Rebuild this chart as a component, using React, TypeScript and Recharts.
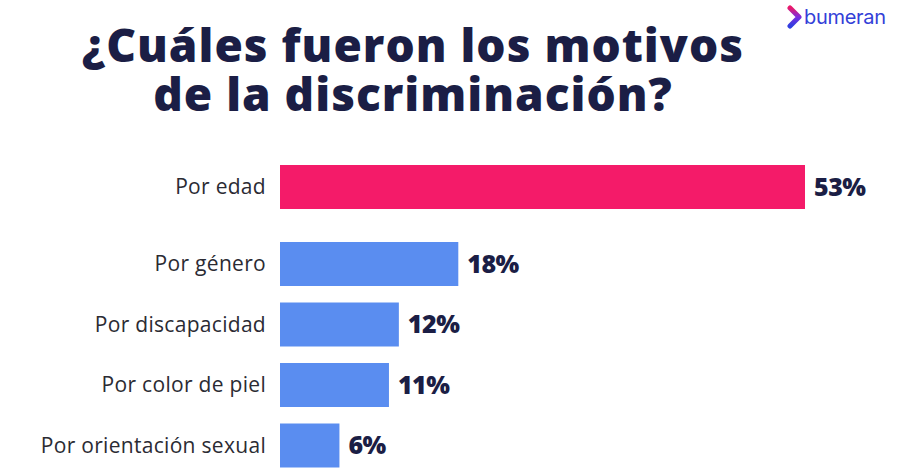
import React from "react";
import { BarChart, Bar, XAxis, YAxis, LabelList, Cell } from "recharts";

const titleLines = ["¿Cuáles fueron los motivos", "de la discriminación?"];
const topCategories = ["Por edad"];
const topValues = [53];
const restCategories = ["Por género", "Por discapacidad", "Por color de piel", "Por orientación sexual"];
const restValues = [18, 12, 11, 6];
const brandName = "bumeran";

const PINK = "#F41B69";
const BLUE = "#5A8DF0";
const NAVY = "#1B1E45";
const LABEL = "#2B2B33";
const FONT = "'Open Sans', sans-serif";

const topData = topCategories.map((name, i) => ({ name, value: topValues[i] }));
const restData = restCategories.map((name, i) => ({ name, value: restValues[i] }));

const Tick = (props: any) => {
  const { x, y, payload } = props;
  return (
    <text x={x} y={y} dy={7} textAnchor="end" fontFamily={FONT} fontSize={21} letterSpacing={0.3} fill={LABEL}>
      {payload.value}
    </text>
  );
};

const DOMAIN: [number, number] = [0, 53];
const MARGIN = { top: 0, right: 106, bottom: 0, left: 0 };

function Chart({ data, color, height }: { data: any[]; color: string; height: number }) {
  return (
    <BarChart layout="vertical" width={911} height={height} data={data} margin={MARGIN}>
      <XAxis type="number" domain={DOMAIN} hide />
      <YAxis
        type="category"
        dataKey="name"
        width={280}
        axisLine={false}
        tickLine={false}
        tickSize={0}
        tickMargin={14}
        tick={<Tick />}
        interval={0}
      />
      <Bar dataKey="value" barSize={44} isAnimationActive={false}>
        {data.map((d, i) => (
          <Cell key={i} fill={color} />
        ))}
        <LabelList
          dataKey="value"
          position="right"
          offset={9}
          formatter={(v: any) => `${v}%`}
          style={{ fontFamily: FONT, fontSize: 25, fontWeight: 800, fill: NAVY, letterSpacing: -0.5 }}
        />
      </Bar>
    </BarChart>
  );
}

export default function App() {
  return (
    <div
      style={{
        position: "absolute",
        left: 0,
        top: 0,
        width: 911,
        height: 475,
        background: "#fff",
        overflow: "hidden",
      }}
    >
      <div
        style={{
          position: "absolute",
          left: 0,
          width: 826,
          top: 20,
          textAlign: "center",
          fontFamily: FONT,
          fontWeight: 800,
          fontSize: 46,
          lineHeight: "49px",
          color: NAVY,
          letterSpacing: 1,
        }}
      >
        {titleLines.map((l, i) => (
          <div key={i}>{l}</div>
        ))}
      </div>
      <div style={{ position: "absolute", left: 787, top: 5, display: "flex", alignItems: "center" }}>
        <svg width={16} height={24} viewBox="0 0 16 24">
          <defs>
            <linearGradient id="chev" x1="0" y1="0" x2="0" y2="1">
              <stop offset="0" stopColor="#E8196B" />
              <stop offset="0.5" stopColor="#7A2BE0" />
              <stop offset="1" stopColor="#2F3FE0" />
            </linearGradient>
          </defs>
          <path d="M3 3 L12 12 L3 21" fill="none" stroke="url(#chev)" strokeWidth={5} strokeLinecap="round" strokeLinejoin="round" />
        </svg>
        <span style={{ fontFamily: "Inter, sans-serif", fontSize: 20, color: "#3340D8", marginLeft: 1, letterSpacing: -0.3 }}>
          {brandName}
        </span>
      </div>
      <div style={{ position: "absolute", left: 0, top: 157 }}>
        <Chart data={topData} color={PINK} height={60} />
      </div>
      <div style={{ position: "absolute", left: 0, top: 234 }}>
        <Chart data={restData} color={BLUE} height={242} />
      </div>
    </div>
  );
}
